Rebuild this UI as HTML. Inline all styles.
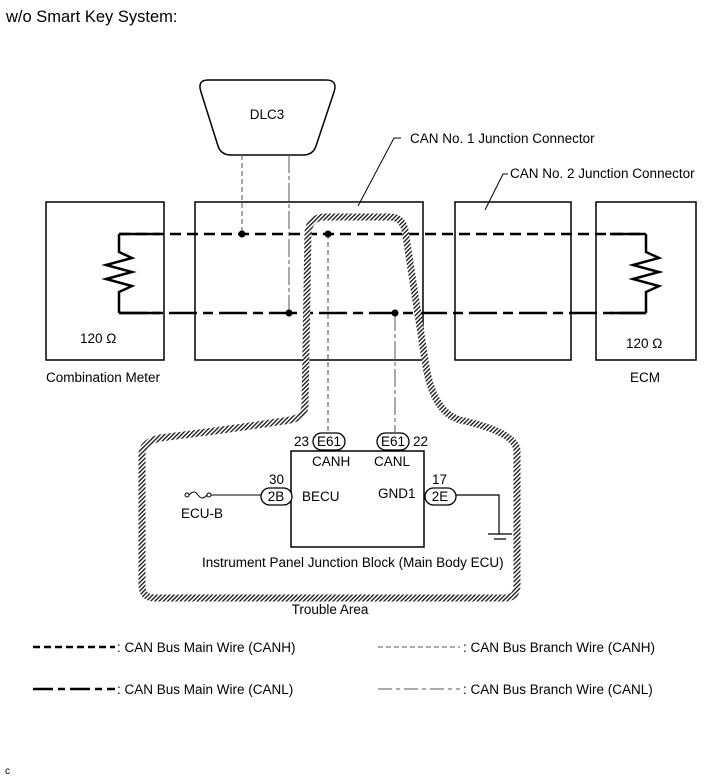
<!DOCTYPE html>
<html><head><style>
body{margin:0;background:#fff;}
svg{display:block;font-family:"Liberation Sans",Arial,sans-serif;}
</style></head><body>
<svg width="713" height="782" viewBox="0 0 713 782" xmlns="http://www.w3.org/2000/svg">
<defs>
<pattern id="h" patternUnits="userSpaceOnUse" width="3" height="3" patternTransform="rotate(45)">
<rect width="3" height="3" fill="#fff"/><rect width="1.3" height="3" fill="#111"/>
</pattern>
</defs>
<text x="6" y="22" font-size="16.5">w/o Smart Key System:</text>

<path d="M208,80 L326,80 Q338,80 334,92 L316,146 Q313,155 303,155 L231,155 Q221,155 218,146 L201,92 Q197,80 208,80 Z" fill="#fff" stroke="#000" stroke-width="1.5"/>
<text x="267" y="119" font-size="13.5" text-anchor="middle">DLC3</text>

<g fill="none" stroke="#000" stroke-width="1.5">
<rect x="46" y="202" width="118" height="158"/>
<rect x="195" y="202" width="228" height="158"/>
<rect x="455" y="202" width="116" height="158"/>
<rect x="596" y="202" width="100" height="158"/>
</g>
<path d="M358,206 L394,138 L401,138" stroke="#000" fill="none" stroke-width="1"/>
<text x="410" y="143" font-size="13.5">CAN No. 1 Junction Connector</text>
<path d="M485,210 L503,174 L508,174" stroke="#000" fill="none" stroke-width="1"/>
<text x="510" y="178" font-size="13.5">CAN No. 2 Junction Connector</text>

<path d="M242,155 V234" stroke="#555" stroke-width="1" stroke-dasharray="5,3"/>
<path d="M289,155 V313" stroke="#555" stroke-width="1" stroke-dasharray="18,3,4,3"/>
<path d="M328,234 V432" stroke="#555" stroke-width="1" stroke-dasharray="5,3"/>
<path d="M395,313 V432" stroke="#555" stroke-width="1" stroke-dasharray="18,3,4,3"/>

<path d="M119,234 H646" stroke="#000" stroke-width="2.5" stroke-dasharray="11,6" fill="none"/>
<path d="M119,313 H646" stroke="#000" stroke-width="2.5" stroke-dasharray="28,6,10,6" fill="none"/>
<path d="M119,234 V252 L132,258 L106,265 L132,272 L106,279 L132,286 L119,292 V313" stroke="#000" stroke-width="2.5" fill="none"/>
<path d="M646,234 V252 L659,258 L633,265 L659,272 L633,279 L659,286 L646,292 V313" stroke="#000" stroke-width="2.5" fill="none"/>
<path d="M119,234 H160 M119,313 H160 M610,234 H646 M610,313 H646" stroke="#000" stroke-width="2.5"/>
<g fill="#000">
<circle cx="242" cy="234" r="3.5"/><circle cx="328" cy="234" r="3.5"/>
<circle cx="289" cy="313" r="3.5"/><circle cx="395" cy="313" r="3.5"/>
</g>
<text x="80" y="343" font-size="13.5">120 Ω</text>
<text x="626" y="348" font-size="13.5">120 Ω</text>
<text x="46" y="382" font-size="13.5">Combination Meter</text>
<text x="630" y="382" font-size="13.5">ECM</text>

<path d="M305,405 L308,232 Q310,217 325,217 L390,217 Q402,217 405,230 L425,360 Q432,412 460,420 Q515,432 517,450 L517,585 Q517,598 505,598 L155,598 Q142,598 142,585 L142,455 Q142,442 160,438 Q240,428 290,420 Q305,417 305,405 Z" fill="none" stroke="url(#h)" stroke-width="7"/>
<text x="330" y="614" font-size="13.5" text-anchor="middle">Trouble Area</text>

<rect x="291" y="451" width="133" height="96" fill="#fff" stroke="#000" stroke-width="1.5"/>
<g fill="#fff" stroke="#000" stroke-width="1.3">
<rect x="313" y="433" width="32" height="17" rx="8.5"/>
<rect x="377" y="433" width="32" height="17" rx="8.5"/>
<rect x="261" y="488" width="31" height="17" rx="8.5"/>
<rect x="425" y="488" width="31" height="17" rx="8.5"/>
</g>
<g font-size="13.5">
<text x="329" y="446" text-anchor="middle">E61</text>
<text x="393" y="446" text-anchor="middle">E61</text>
<text x="276" y="501" text-anchor="middle">2B</text>
<text x="440" y="501" text-anchor="middle">2E</text>
<text x="294" y="446">23</text>
<text x="413" y="446">22</text>
<text x="269" y="484">30</text>
<text x="432" y="484">17</text>
<text x="312" y="466">CANH</text>
<text x="374" y="466">CANL</text>
<text x="302" y="501">BECU</text>
<text x="378" y="498">GND1</text>
<text x="181" y="518">ECU-B</text>
<text x="202" y="567">Instrument Panel Junction Block (Main Body ECU)</text>
</g>
<circle cx="187" cy="495" r="2" fill="none" stroke="#000"/>
<circle cx="209" cy="495" r="2" fill="none" stroke="#000"/>
<path d="M189,495 Q194,489 198,495 Q202,501 207,495" fill="none" stroke="#000"/>
<path d="M211,495 H261" stroke="#000"/>
<path d="M456,495 H499 V534 M488,534 H512 M494,539 H506" stroke="#000" fill="none" stroke-width="1.2"/>

<path d="M33,647 H115" stroke="#000" stroke-width="2.5" stroke-dasharray="7,4"/>
<text x="117" y="652" font-size="13.5">: CAN Bus Main Wire (CANH)</text>
<path d="M33,689 H115" stroke="#000" stroke-width="2.5" stroke-dasharray="20,5,7,5"/>
<text x="117" y="694" font-size="13.5">: CAN Bus Main Wire (CANL)</text>
<path d="M378,647 H460" stroke="#555" stroke-width="1" stroke-dasharray="5,3"/>
<text x="463" y="652" font-size="13.5">: CAN Bus Branch Wire (CANH)</text>
<path d="M378,689 H460" stroke="#555" stroke-width="1" stroke-dasharray="14,4,4,4"/>
<text x="463" y="694" font-size="13.5">: CAN Bus Branch Wire (CANL)</text>
<text x="5" y="774" font-size="10">c</text>
</svg>
</body></html>
